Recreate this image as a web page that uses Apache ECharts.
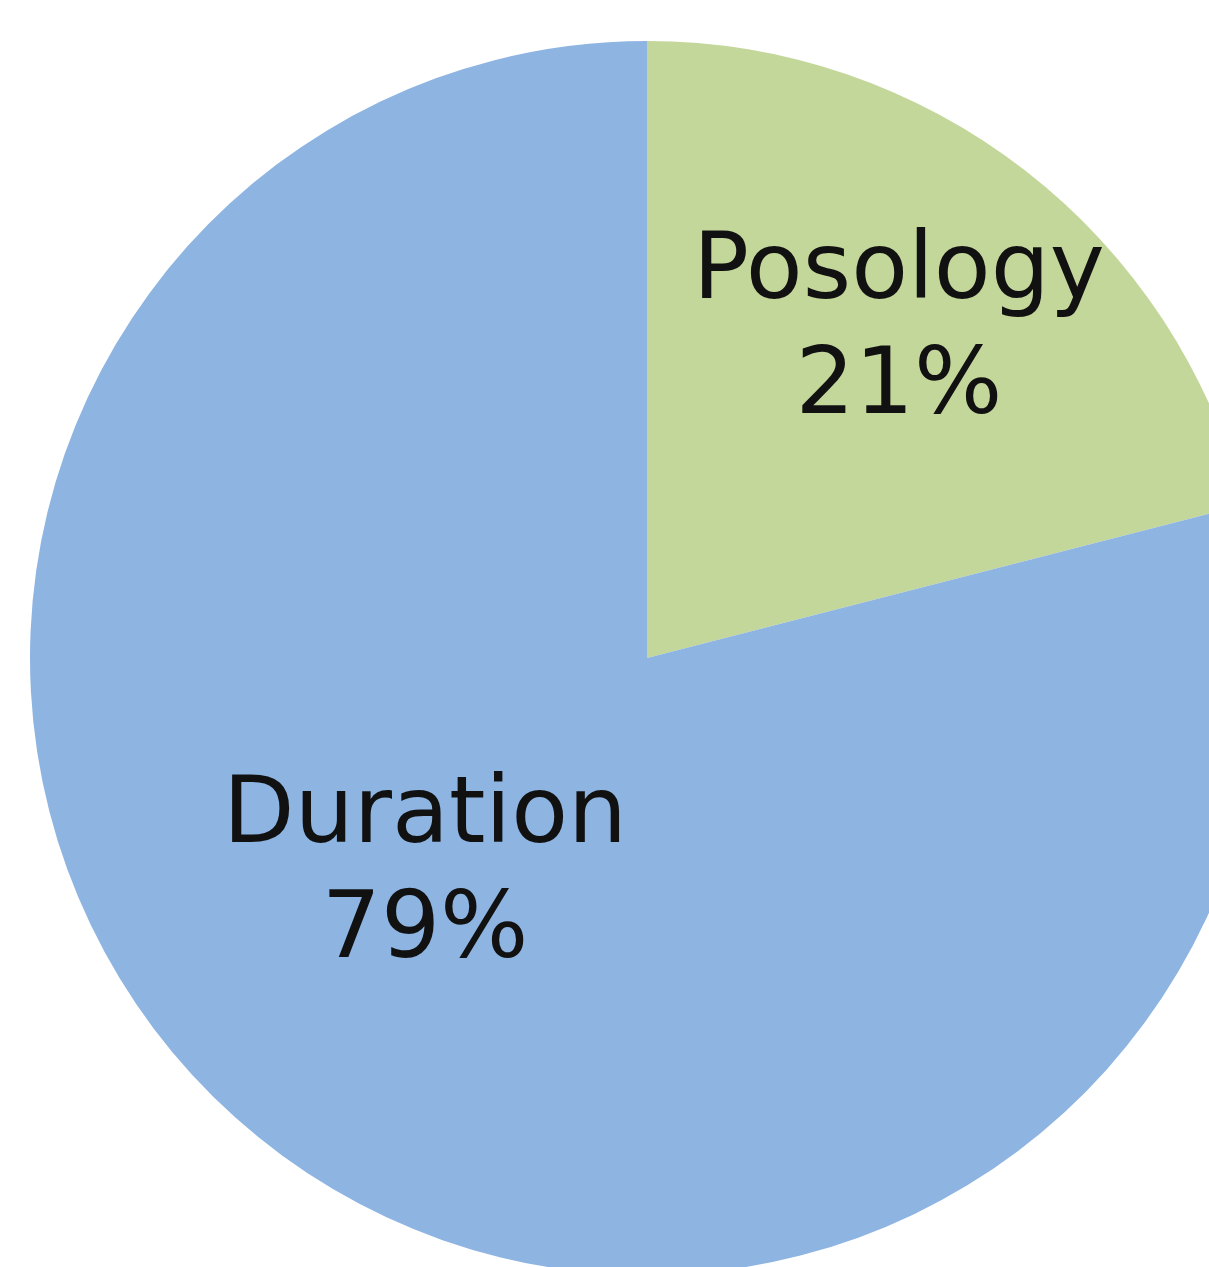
<!DOCTYPE html>
<html>
<head>
<meta charset="utf-8">
<script src="https://cdn.jsdelivr.net/npm/echarts@6/dist/echarts.min.js"></script>
<style>
html,body{margin:0;padding:0;background:#fff;}
#chart{width:1209px;height:1267px;}
</style>
</head>
<body>
<div id="chart"></div>
<script>
const categories = ['Posology', 'Duration'];
const values = [21, 79];
const colors = ['#C4D79B', '#8EB4E2'];
const labelOffsets = [[61, -81], [-31, -29]];

const chart = echarts.init(document.getElementById('chart'));
chart.setOption({
  animation: false,
  backgroundColor: '#ffffff',
  series: [{
    type: 'pie',
    center: [647, 658],
    radius: [0, 617],
    startAngle: 90,
    clockwise: true,
    avoidLabelOverlap: false,
    itemStyle: { borderWidth: 0 },
    label: {
      show: true,
      position: 'inside',
      formatter: '{b}\n{d}%',
      fontFamily: 'DejaVu Sans',
      fontSize: 93,
      lineHeight: 115,
      color: '#111111',
      align: 'center'
    },
    labelLine: { show: false },
    emphasis: { disabled: true },
    data: categories.map((c, i) => ({
      name: c,
      value: values[i],
      itemStyle: { color: colors[i] },
      label: { offset: labelOffsets[i] }
    }))
  }]
});
</script>
</body>
</html>
